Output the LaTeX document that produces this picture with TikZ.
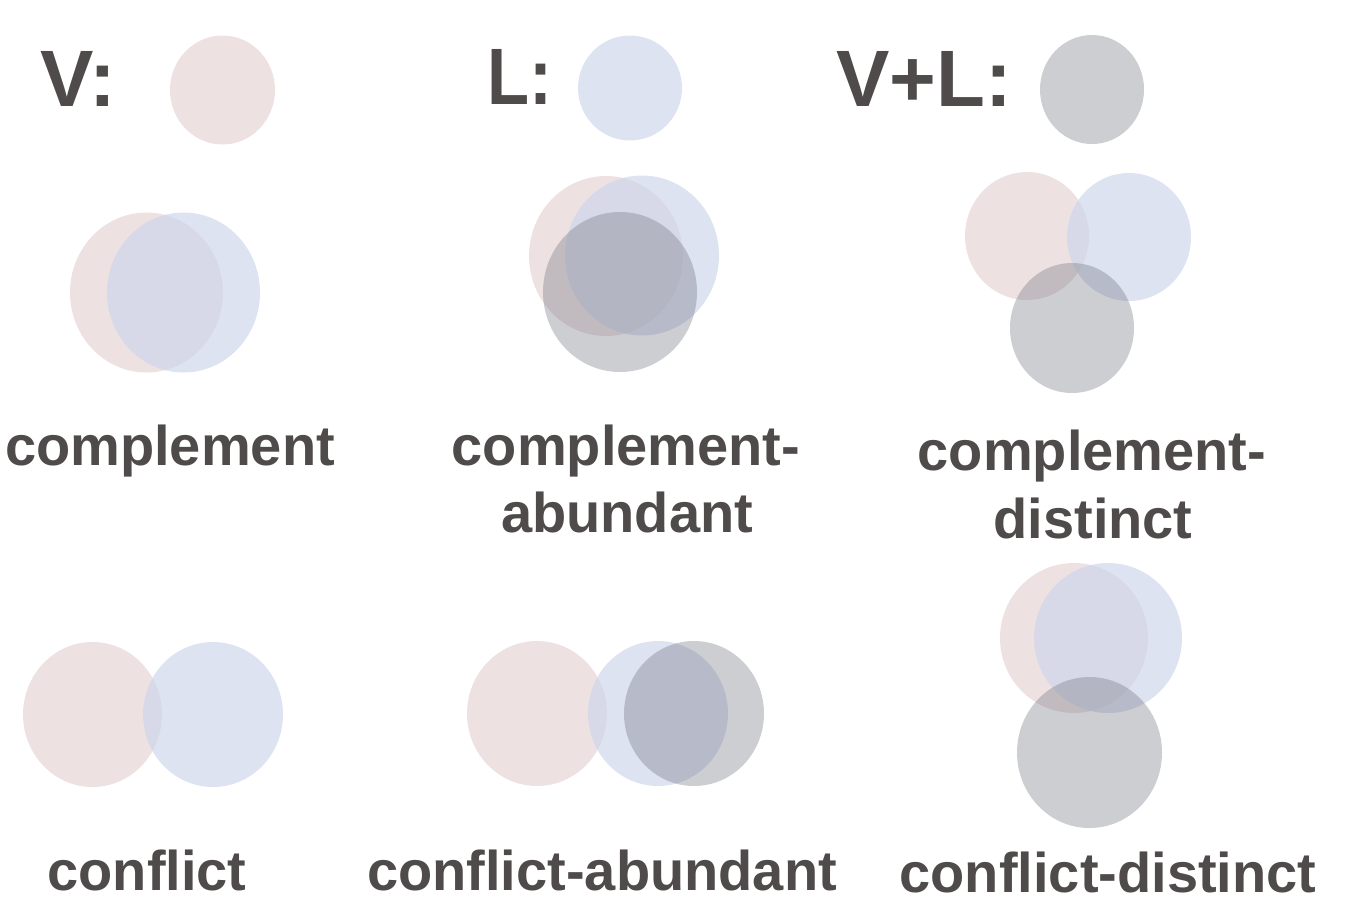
\documentclass[tikz,border=0pt]{standalone}
\usepackage{fontspec}
\setmainfont{Liberation Sans}
\definecolor{txt}{RGB}{80,75,75}
\definecolor{cv}{RGB}{204,169,172}
\definecolor{cl}{RGB}{208,215,236}
\definecolor{cg}{RGB}{112,115,126}
\tikzset{
  vdisc/.style={fill=cv, fill opacity=0.35},
  ldisc/.style={fill=cl, fill opacity=0.7},
  gdisc/.style={fill=cg, fill opacity=0.35},
  head/.style={anchor=base west, inner sep=0pt, text=txt, font=\fontsize{80}{90}\selectfont\bfseries},
  lab/.style={anchor=base, inner sep=0pt, text=txt, font=\fontsize{56}{60}\selectfont\bfseries}
}
\begin{document}
\begin{tikzpicture}[x=1pt,y=-1pt]
\useasboundingbox (0,0) rectangle (1370,916);
% header row
\node[head] (hv) at (40,106) {V:};
\fill[vdisc] (222.5,90) ellipse [x radius=52.5, y radius=54.5];
\node[head, xscale=0.86] (hl) at (487,104) {L:};
\fill[ldisc] (630,88) ellipse [x radius=52, y radius=52.5];
\node[head] (hvl) at (836,106) {V+L:};
\fill[gdisc] (1092,89.5) ellipse [x radius=52, y radius=54.5];
% row 2: complement
\fill[vdisc] (146.5,292.5) ellipse [x radius=76.5, y radius=80];
\fill[ldisc] (183.5,292.5) ellipse [x radius=76.5, y radius=80];
\node[lab] (l1) at (170,465) {complement};
% complement-abundant
\fill[vdisc] (606,256) ellipse [x radius=77, y radius=80];
\fill[ldisc] (642,255.5) ellipse [x radius=77, y radius=80];
\fill[gdisc] (620,292) ellipse [x radius=77, y radius=80];
\node[lab] (l2a) at (626,465) {complement-};
\node[lab] (l2b) at (627,532) {abundant};
% complement-distinct
\fill[vdisc] (1027,236) ellipse [x radius=62, y radius=64];
\fill[ldisc] (1129,237) ellipse [x radius=62, y radius=64];
\fill[gdisc] (1072,328) ellipse [x radius=62, y radius=65];
\node[lab] (l3a) at (1092,470) {complement-};
\node[lab] (l3b) at (1093,538) {distinct};
% row 3: conflict
\fill[vdisc] (92.5,714.5) ellipse [x radius=69.5, y radius=72.5];
\fill[ldisc] (213,714.5) ellipse [x radius=70, y radius=72.5];
\node[lab] (l4) at (147,890) {conflict};
% conflict-abundant
\fill[vdisc] (537,713.5) ellipse [x radius=70, y radius=72.5];
\fill[ldisc] (658,713.5) ellipse [x radius=70, y radius=72.5];
\fill[gdisc] (694,713.5) ellipse [x radius=70, y radius=72.5];
\node[lab] (l5) at (602,890) {conflict-abundant};
% conflict-distinct
\fill[vdisc] (1074,638) ellipse [x radius=74, y radius=75];
\fill[ldisc] (1108,638) ellipse [x radius=74, y radius=75];
\fill[gdisc] (1089.5,752.5) ellipse [x radius=72.5, y radius=75.5];
\node[lab] (l6) at (1108,892) {conflict-distinct};
\end{tikzpicture}
\end{document}
